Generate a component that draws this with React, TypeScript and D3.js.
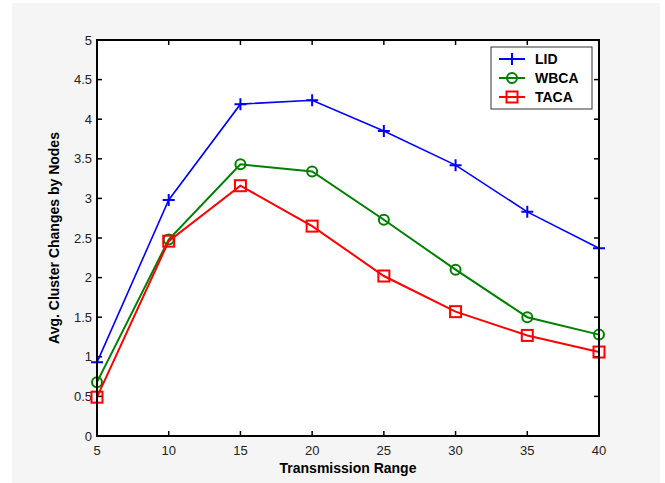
import React from "react";
import * as d3 from "d3";

const xValues = [5, 10, 15, 20, 25, 30, 35, 40];
const lidValues = [0.93, 2.98, 4.19, 4.24, 3.85, 3.42, 2.83, 2.37];
const wbcaValues = [0.68, 2.48, 3.43, 3.34, 2.73, 2.1, 1.5, 1.28];
const tacaValues = [0.49, 2.46, 3.16, 2.65, 2.02, 1.57, 1.27, 1.06];
const xTicks = [5, 10, 15, 20, 25, 30, 35, 40];
const yTicks = [0, 0.5, 1, 1.5, 2, 2.5, 3, 3.5, 4, 4.5, 5];
const seriesNames = ["LID", "WBCA", "TACA"];

const W = 665, H = 483;
const left = 97, right = 599, top = 40, bottom = 436;

export default function App() {
  const x = d3.scaleLinear().domain([5, 40]).range([left, right]);
  const y = d3.scaleLinear().domain([0, 5]).range([bottom, top]);
  const series = [
    { name: seriesNames[0], values: lidValues, color: "#0000ff", marker: "plus", width: 1.6 },
    { name: seriesNames[1], values: wbcaValues, color: "#008000", marker: "circle", width: 2 },
    { name: seriesNames[2], values: tacaValues, color: "#ff0000", marker: "square", width: 2 },
  ];
  const line = d3.line<number>().x((_, i) => x(xValues[i])).y((d) => y(d));
  const font = "'Liberation Sans', Arial, Helvetica, sans-serif";

  const marker = (m: string, cx: number, cy: number, color: string, key: any) => {
    if (m === "plus")
      return (
        <path key={key} d={`M${cx - 6},${cy}H${cx + 6}M${cx},${cy - 6}V${cy + 6}`} stroke={color} strokeWidth={2} fill="none" />
      );
    if (m === "circle")
      return <circle key={key} cx={cx} cy={cy} r={5} stroke={color} strokeWidth={2} fill="none" />;
    return <rect key={key} x={cx - 5.5} y={cy - 5.5} width={11} height={11} stroke={color} strokeWidth={2} fill="none" />;
  };

  const legX = 491, legY = 47, legW = 101, legH = 62;

  return (
    <svg width={W} height={H} style={{ position: "absolute", left: 0, top: 0 }} fontFamily={font}>
      <rect x={0} y={0} width={W} height={H} fill="#ffffff" />
      <rect x={12} y={3} width={648} height={H - 3} fill="#f5f5f5" />
      <rect x={left} y={top} width={right - left} height={bottom - top} fill="#ffffff" />
      {/* ticks */}
      {xTicks.map((t) => (
        <g key={"xt" + t}>
          <line x1={x(t)} x2={x(t)} y1={bottom} y2={bottom - 5} stroke="#000" strokeWidth={1.5} />
          <line x1={x(t)} x2={x(t)} y1={top} y2={top + 5} stroke="#000" strokeWidth={1.5} />
          <text x={x(t)} y={bottom + 19} textAnchor="middle" fontSize={13} fill="#222">{t}</text>
        </g>
      ))}
      {yTicks.map((t) => (
        <g key={"yt" + t}>
          <line x1={left} x2={left + 5} y1={y(t)} y2={y(t)} stroke="#000" strokeWidth={1.5} />
          <line x1={right} x2={right - 5} y1={y(t)} y2={y(t)} stroke="#000" strokeWidth={1.5} />
          <text x={left - 5} y={y(t) + 4.5} textAnchor="end" fontSize={13} fill="#222">{t}</text>
        </g>
      ))}
      {/* series */}
      {series.map((s) => (
        <g key={s.name}>
          <path d={line(s.values) || ""} stroke={s.color} strokeWidth={s.width} fill="none" />
          {s.values.map((v, i) => marker(s.marker, x(xValues[i]), y(v), s.color, i))}
        </g>
      ))}
      <rect x={left} y={top} width={right - left} height={bottom - top} fill="none" stroke="#000" strokeWidth={2} />
      {/* legend */}
      <rect x={legX} y={legY} width={legW} height={legH} fill="#ffffff" stroke="#333" strokeWidth={1} />
      {series.map((s, i) => {
        const ly = legY + 12 + i * 19;
        return (
          <g key={"leg" + s.name}>
            <line x1={legX + 8} x2={legX + 34} y1={ly} y2={ly} stroke={s.color} strokeWidth={2} />
            {marker(s.marker, legX + 21, ly, s.color, "m")}
            <text x={legX + 44} y={ly + 5} fontSize={14} fontWeight="bold" fill="#000">{s.name}</text>
          </g>
        );
      })}
      {/* axis titles */}
      <text x={(left + right) / 2} y={bottom + 37} textAnchor="middle" fontSize={14} fontWeight="bold" fill="#000">Transmission Range</text>
      <text transform={`translate(59,${(top + bottom) / 2}) rotate(-90)`} textAnchor="middle" fontSize={14} fontWeight="bold" fill="#000">Avg. Cluster Changes by Nodes</text>
    </svg>
  );
}
